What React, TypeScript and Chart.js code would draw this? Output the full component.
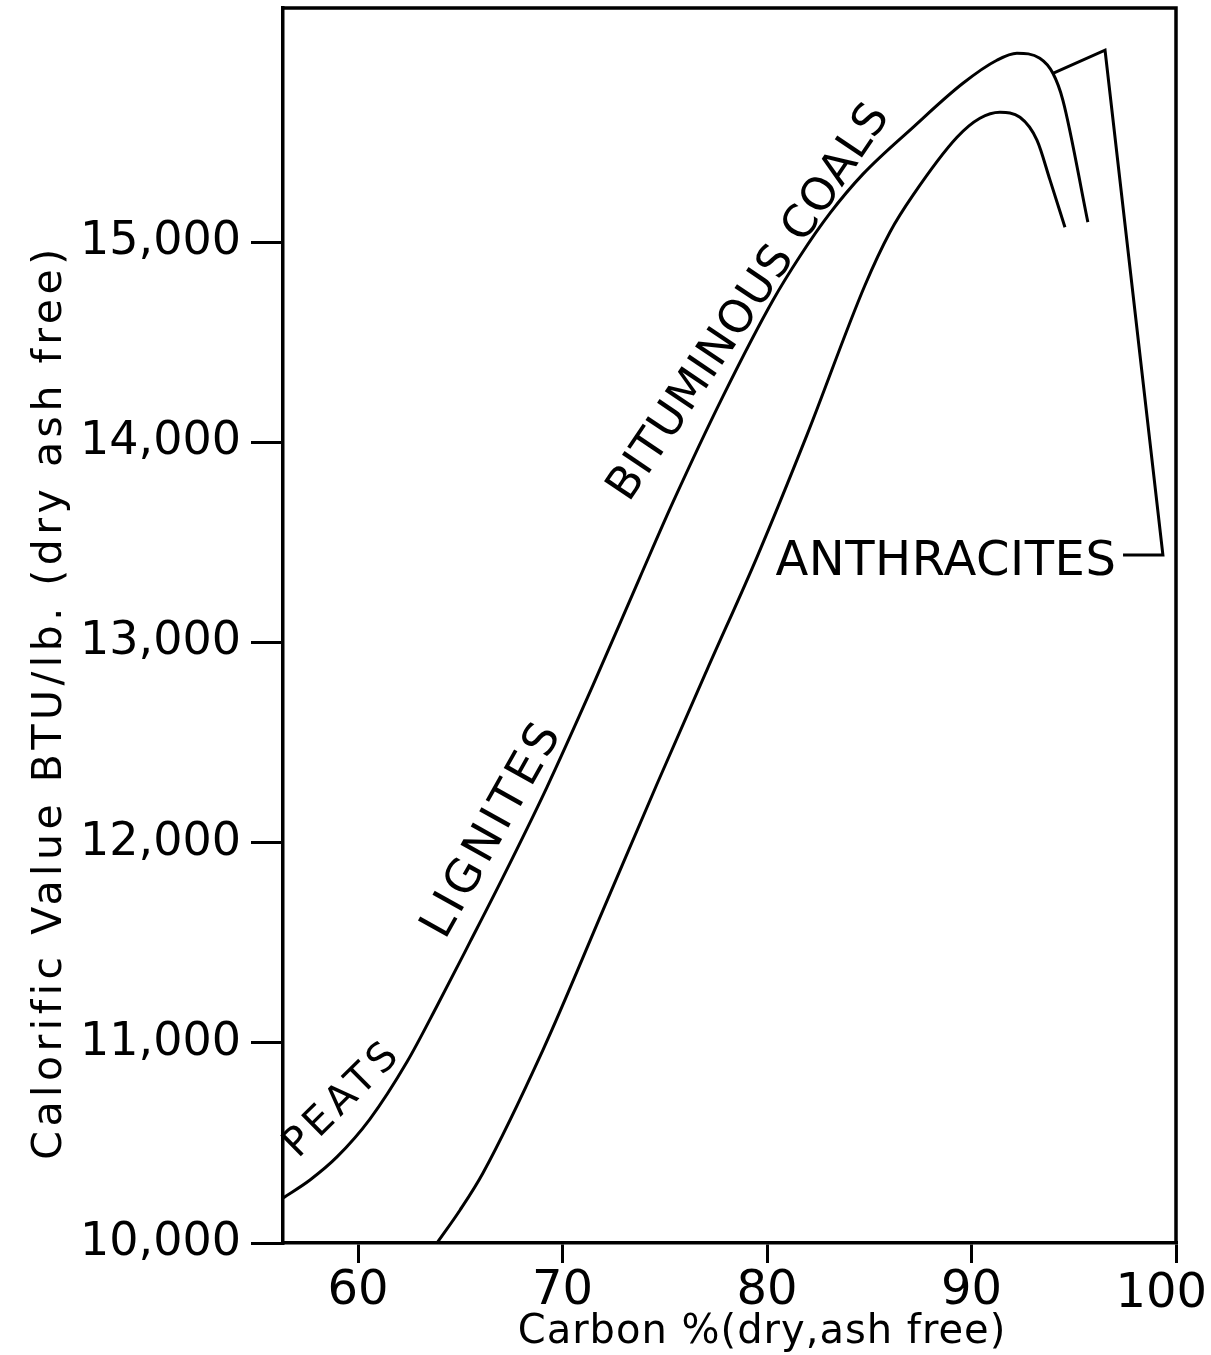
import React, { useEffect, useRef } from "react";
import { Chart, registerables } from "chart.js";

Chart.register(...registerables);

// ---- axis ticks ----
const xTickValues = [60, 70, 80, 90, 100];
const yTickValues = [10000, 11000, 12000, 13000, 14000, 15000];

// ---- upper band edge: peats -> lignites -> bituminous coals ----
const upperCarbon = [
  56.33, 57.65, 58.97, 60.58, 62.39, 63.86, 65.47, 67.09, 69.24, 71.49, 73.79,
  75.4, 77.85, 80.29, 81.61, 83.08, 84.69, 87.14, 89.58, 91.24, 92.22, 93.34,
  93.98, 94.47, 95.69,
];
const upperBtu = [
  10225, 10315, 10430, 10619, 10904, 11184, 11503, 11828, 12278, 12787, 13327,
  13701, 14231, 14710, 14930, 15145, 15340, 15574, 15794, 15909, 15944, 15919,
  15844, 15709, 15100,
];

// ---- lower band edge ----
const lowerCarbon = [
  63.86, 64.99, 66.11, 69.04, 71.98, 74.62, 77.06, 79.51, 81.95, 84.79, 86.01,
  87.14, 89.29, 90.41, 91.39, 92.37, 93.2, 93.84, 94.57,
];
const lowerBtu = [
  10000, 10165, 10350, 10964, 11663, 12293, 12862, 13427, 14036, 14785, 15050,
  15235, 15524, 15619, 15649, 15624, 15510, 15310, 15075,
];

// ---- anthracite bracket ----
const anthraciteCarbon = [93.98, 96.53, 99.36, 97.41];
const anthraciteBtu = [15844, 15959, 13437, 13437];

const FONT = '"DejaVu Sans", "Liberation Sans", sans-serif';

const curveLabels = [
  { text: "PEATS", carbon: 59.65, btu: 10680, angle: -44.7, size: 40, spacing: 5 },
  { text: "LIGNITES", carbon: 67.14, btu: 12035, angle: -60.7, size: 46, spacing: 4 },
  { text: "BITUMINOUS COALS", carbon: 79.64, btu: 14665, angle: -56, size: 45, spacing: 1 },
  { text: "ANTHRACITES", carbon: 88.75, btu: 13337, angle: 0, size: 48, spacing: 0.5 },
];

const xTitle = "Carbon %(dry,ash free)";
const yTitle = "Calorific Value BTU/lb. (dry ash free)";

const toPoints = (xs: number[], ys: number[]) => xs.map((x, i) => ({ x, y: ys[i] }));

const overlayPlugin = {
  id: "overlay",
  afterDraw(chart: any) {
    const { ctx, chartArea: a, scales } = chart;
    ctx.save();
    ctx.strokeStyle = "#000";
    ctx.lineWidth = 3.5;
    ctx.beginPath();
    ctx.moveTo(a.left - 1.75, a.top);
    ctx.lineTo(a.right, a.top);
    ctx.lineTo(a.right, a.bottom);
    ctx.stroke();

    ctx.fillStyle = "#000";
    for (const l of curveLabels) {
      const px = scales.x.getPixelForValue(l.carbon);
      const py = scales.y.getPixelForValue(l.btu);
      ctx.save();
      ctx.translate(px, py);
      ctx.rotate((l.angle * Math.PI) / 180);
      ctx.font = `${l.size}px ${FONT}`;
      (ctx as any).letterSpacing = `${l.spacing}px`;
      ctx.textAlign = "center";
      ctx.textBaseline = "alphabetic";
      ctx.fillText(l.text, 0, 0);
      ctx.restore();
    }

    // last x tick label, kept inside the canvas like the original lettering
    const lastTick = xTickValues[xTickValues.length - 1];
    ctx.save();
    ctx.font = `48px ${FONT}`;
    ctx.textAlign = "right";
    ctx.textBaseline = "alphabetic";
    ctx.fillText(String(lastTick), scales.x.getPixelForValue(lastTick) + 31, a.bottom + 64);
    ctx.restore();

    // axis titles
    ctx.save();
    ctx.font = `40px ${FONT}`;
    (ctx as any).letterSpacing = "1px";
    ctx.textAlign = "center";
    ctx.textBaseline = "alphabetic";
    ctx.fillText(xTitle, a.left + 479, a.bottom + 100);
    ctx.restore();

    ctx.save();
    ctx.font = `41px ${FONT}`;
    (ctx as any).letterSpacing = "4.5px";
    ctx.textAlign = "center";
    ctx.textBaseline = "alphabetic";
    ctx.translate(a.left - 222, 702);
    ctx.rotate(-Math.PI / 2);
    ctx.fillText(yTitle, 0, 0);
    ctx.restore();

    ctx.restore();
  },
};

export default function App() {
  const canvasRef = useRef<HTMLCanvasElement | null>(null);

  useEffect(() => {
    const canvas = canvasRef.current;
    if (!canvas) return;
    const lineStyle = {
      showLine: true,
      pointRadius: 0,
      borderColor: "#000",
      backgroundColor: "#000",
      borderWidth: 3,
      fill: false,
    };
    const chart = new Chart(canvas, {
      type: "scatter",
      data: {
        datasets: [
          { label: "Upper limit", data: toPoints(upperCarbon, upperBtu), cubicInterpolationMode: "monotone", ...lineStyle },
          { label: "Lower limit", data: toPoints(lowerCarbon, lowerBtu), cubicInterpolationMode: "monotone", ...lineStyle },
          { label: "Anthracites", data: toPoints(anthraciteCarbon, anthraciteBtu), tension: 0, ...lineStyle },
        ],
      },
      options: {
        responsive: false,
        animation: false,
        devicePixelRatio: 1,
        layout: { padding: { left: 0, right: 35, top: 8, bottom: 0 } },
        plugins: {
          legend: { display: false },
          tooltip: { enabled: false },
          title: { display: false },
        },
        scales: {
          x: {
            type: "linear",
            min: 56.33,
            max: 100,
            afterBuildTicks: (s: any) => {
              s.ticks = xTickValues.map((v) => ({ value: v }));
            },
            afterFit: (s: any) => {
              s.height = 112;
              s.paddingLeft = 0;
              s.paddingRight = 0;
            },
            ticks: {
              color: "#000",
              font: { family: FONT, size: 48 },
              padding: 0,
              maxRotation: 0,
              autoSkip: false,
              callback: (v: any) => (Number(v) === 100 ? "" : String(v)),
            },
            grid: {
              display: true,
              drawOnChartArea: false,
              drawTicks: true,
              tickLength: 20,
              lineWidth: 3,
              color: "#000",
            },
            border: { display: true, width: 3.5, color: "#000" },
          },
          y: {
            type: "linear",
            min: 10000,
            max: 16170,
            afterBuildTicks: (s: any) => {
              s.ticks = yTickValues.map((v) => ({ value: v }));
            },
            afterFit: (s: any) => {
              s.width = 283;
              s.paddingTop = 0;
              s.paddingBottom = 0;
            },
            ticks: {
              color: "#000",
              font: { family: FONT, size: 46 },
              padding: 10,
              autoSkip: false,
              callback: (v: any) => Number(v).toLocaleString("en-US"),
            },
            grid: {
              display: true,
              drawOnChartArea: false,
              drawTicks: true,
              tickLength: 32,
              lineWidth: 3,
              color: "#000",
            },
            border: { display: true, width: 3.5, color: "#000" },
          },
        },
      },
      plugins: [overlayPlugin],
    });
    return () => chart.destroy();
  }, []);

  return (
    <div style={{ position: "absolute", left: 0, top: 0, width: 1211, height: 1355, background: "#fff" }}>
      <canvas ref={canvasRef} width={1211} height={1355} style={{ display: "block" }} />
    </div>
  );
}
